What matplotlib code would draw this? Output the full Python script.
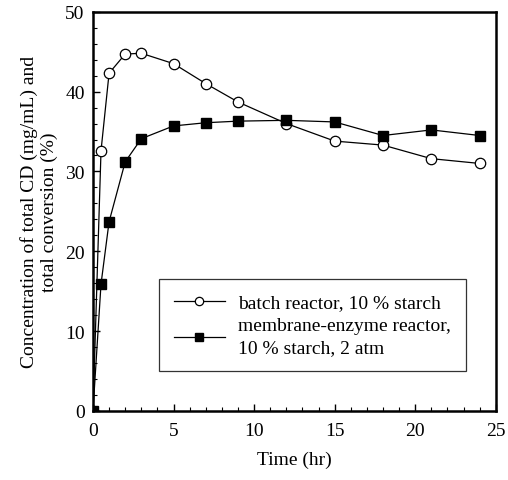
import matplotlib
matplotlib.use("Agg")
import matplotlib.pyplot as plt
from matplotlib.ticker import MultipleLocator

plt.rcParams['font.family'] = ['Liberation Serif', 'DejaVu Serif']

time_batch = [0, 0.5, 1, 2, 3, 5, 7, 9, 12, 15, 18, 21, 24]
conc_batch = [0, 32.6, 42.3, 44.7, 44.8, 43.5, 41.0, 38.7, 36.0, 33.8, 33.3, 31.6, 31.0]
time_mem = [0, 0.5, 1, 2, 3, 5, 7, 9, 12, 15, 18, 21, 24]
conc_mem = [0, 15.9, 23.7, 31.2, 34.1, 35.7, 36.1, 36.3, 36.4, 36.2, 34.5, 35.2, 34.5]

fig = plt.figure(figsize=(5.08, 4.81), dpi=100)
ax = fig.add_axes([0.183, 0.1435, 0.793, 0.83])

ax.plot(time_batch, conc_batch, '-', color='black', lw=0.9, marker='o', ms=7.5,
        mfc='white', mec='black', mew=0.9, label='batch reactor, 10 % starch')
ax.plot(time_mem, conc_mem, '-', color='black', lw=0.9, marker='s', ms=7,
        mfc='black', mec='black', label='membrane-enzyme reactor,\n10 % starch, 2 atm')

ax.set_xlim(0, 25)
ax.set_ylim(0, 50)
ax.xaxis.set_major_locator(MultipleLocator(5))
ax.xaxis.set_minor_locator(MultipleLocator(1))
ax.yaxis.set_major_locator(MultipleLocator(10))
ax.yaxis.set_minor_locator(MultipleLocator(2))
ax.tick_params(which='both', direction='in', top=False, right=False, labelsize=14)
ax.tick_params(which='major', length=5, width=1)
ax.tick_params(which='minor', length=3, width=0.8)
ax.tick_params(axis='x', pad=8)
ax.tick_params(axis='y', pad=6)
for s in ax.spines.values():
    s.set_linewidth(1.8)

ax.set_xlabel('Time (hr)', fontsize=14, labelpad=8)
ax.set_ylabel('Concentration of total CD (mg/mL) and\ntotal conversion (%)', fontsize=14, labelpad=5)

leg = ax.legend(loc='lower right', bbox_to_anchor=(0.925, 0.1), borderaxespad=0,
                fontsize=14, frameon=True,
                fancybox=False, edgecolor='black', handlelength=2.6, borderpad=0.75,
                labelspacing=0.3, handletextpad=0.7, markerscale=0.8)
leg.get_frame().set_linewidth(0.9)
leg.get_texts()[1].set_linespacing(1.4)

fig.savefig('out.png', dpi=100)
